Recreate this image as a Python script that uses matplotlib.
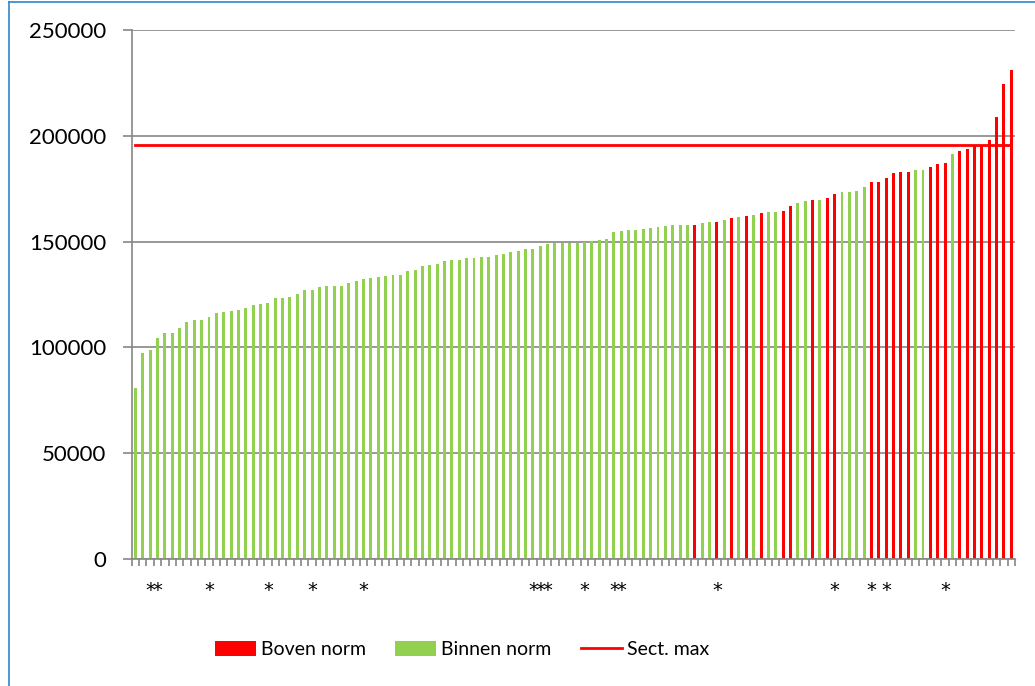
import matplotlib
matplotlib.use("Agg")
import matplotlib.pyplot as plt
from matplotlib.patches import Patch
from matplotlib.lines import Line2D
from matplotlib.ticker import FixedLocator, MultipleLocator

# --- data (sorted values per unit) ---
VALUES = [
    81000, 97300, 98900, 104300, 107000, 107000, 109300, 112000, 112800, 112800,
    114500, 116400, 116900, 117400, 117700, 118500, 119900, 120400, 121000, 123400,
    123400, 123900, 125400, 127000, 127000, 128600, 128800, 128800, 129100, 130500,
    131200, 132400, 132900, 133200, 133700, 134200, 134200, 136200, 136400, 138300,
    138800, 139200, 140700, 141100, 141100, 142100, 142400, 142600, 142800, 143600,
    144100, 145200, 145700, 146300, 146500, 148000, 148900, 149200, 149500, 149500,
    149500, 149700, 150100, 150600, 151400, 154500, 155100, 155300, 155500, 155800,
    156400, 156700, 157200, 157700, 157700, 157800, 157800, 158800, 159400, 159400,
    160100, 161200, 161600, 162100, 162700, 163500, 163800, 163800, 164300, 167000,
    168200, 169300, 169800, 169800, 170500, 172500, 173300, 173500, 174000, 175800,
    178000, 178300, 180100, 182400, 182800, 182800, 183800, 183800, 185400, 186900,
    187200, 191500, 192700, 193700, 195200, 195200, 197800, 209100, 224700, 231000,
]
# positions (0-based) of bars that are "Boven norm"
BOVEN_IDX = [76, 79, 81, 83, 85, 88, 89, 92, 94, 95, 100, 101, 102, 103, 104, 105,
             108, 109, 110, 112, 113, 114, 115, 116, 117, 118, 119]
# positions that carry a "*" category label
STAR_IDX = [2, 3, 10, 18, 24, 31, 54, 55, 56, 61, 65, 66, 79, 95, 100, 102, 110]
SECT_MAX = 195700

RED = "#FF0000"
GREEN = "#92D050"
GRID = "#868686"

plt.rcParams["font.family"] = ["Lato", "DejaVu Sans"]

n = len(VALUES)
xs = list(range(n))
colors = [RED if i in BOVEN_IDX else GREEN for i in xs]
labels = ["*" if i in STAR_IDX else "" for i in xs]

fig = plt.figure(figsize=(10.35, 6.86), dpi=100)
ax = fig.add_axes([131.7 / 1035, 1 - 559 / 686, (1015 - 131.7) / 1035, (559 - 30) / 686])

ax.bar(xs, VALUES, width=0.4, color=colors, zorder=3)
ax.plot([0, n - 1], [SECT_MAX, SECT_MAX], color=RED, lw=2.0, zorder=4)

ax.set_xlim(-0.5, n - 0.5)
ax.set_ylim(0, 250000)
ax.yaxis.set_major_locator(MultipleLocator(50000))
ax.yaxis.grid(True, color=GRID, lw=1.2, zorder=0)
ax.set_axisbelow(True)

for s in ["top", "right"]:
    ax.spines[s].set_visible(False)
for s in ["left", "bottom"]:
    ax.spines[s].set_color(GRID)
    ax.spines[s].set_linewidth(1.2)
    ax.spines[s].set_zorder(5)

ax.set_xticks(xs)
ax.set_xticklabels(labels, family="DejaVu Sans", fontsize=14)
ax.xaxis.set_minor_locator(FixedLocator([i - 0.5 for i in range(n + 1)]))
ax.tick_params(axis="x", which="major", length=0, pad=16)
ax.tick_params(axis="x", which="minor", length=5, width=1.2, color=GRID)
ax.tick_params(axis="y", length=6.5, width=1.2, color=GRID, pad=12, labelsize=16)

handles = [
    Patch(facecolor=RED, label="Boven norm"),
    Patch(facecolor=GREEN, label="Binnen norm"),
    Line2D([], [], color=RED, lw=2.0, label="Sect. max"),
]
fig.legend(handles=handles, loc="center", bbox_to_anchor=(0.4464, 0.0525), ncol=3,
           frameon=False, fontsize=14, handlelength=2.1, handleheight=0.77,
           handletextpad=0.28, columnspacing=1.5)

# blue chart-area border (left and top edges visible in the reference)
fig.add_artist(Line2D([8.5 / 1035, 8.5 / 1035], [0, 1 - 1.5 / 686], color="#2F85C9", lw=1.2))
fig.add_artist(Line2D([8.5 / 1035, 1], [1 - 1.5 / 686, 1 - 1.5 / 686], color="#2F85C9", lw=1.2))

fig.savefig("out.png", dpi=100)
